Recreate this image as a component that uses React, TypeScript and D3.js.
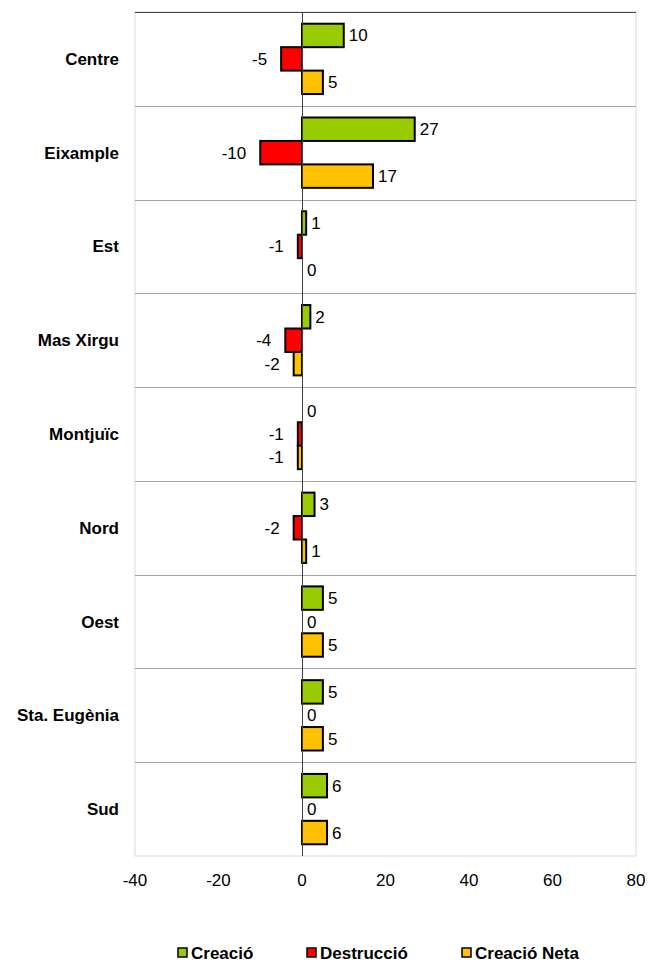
import * as d3 from "d3"
import { useEffect, useRef } from "react"

const categories = ["Centre", "Eixample", "Est", "Mas Xirgu", "Montjuïc", "Nord", "Oest", "Sta. Eugènia", "Sud"]
const seriesNames = ["Creació", "Destrucció", "Creació Neta"]
const creacio = [10, 27, 1, 2, 0, 3, 5, 5, 6]
const destruccio = [-5, -10, -1, -4, -1, -2, 0, 0, 0]
const creacioNeta = [5, 17, 0, -2, -1, 1, 5, 5, 6]
const xTicks = [-40, -20, 0, 20, 40, 60, 80]
const colors = ["#99CC00", "#FF0000", "#FFC000"]

const W = 648
const H = 963
const MARGIN = { top: 12, right: 12, bottom: 107, left: 135 }
const FONT = "'Liberation Sans', Arial, sans-serif"
const FS = 17

const App = () => {
  const svgRef = useRef<SVGSVGElement>(null)

  useEffect(() => {
    if (!svgRef.current) return
    const svg = d3.select(svgRef.current)
    svg.selectAll("*").remove()

    const x = d3.scaleLinear().domain([-40, 80]).range([MARGIN.left, W - MARGIN.right])
    const y = d3
      .scaleBand<string>()
      .domain(categories)
      .range([MARGIN.top, H - MARGIN.bottom])
      .paddingInner(0)
      .paddingOuter(0)
    const sub = d3.scaleBand<string>().domain(seriesNames).range([0, y.bandwidth()]).paddingOuter(0.5)

    const series = [creacio, destruccio, creacioNeta]

    // plot area border
    svg
      .append("rect")
      .attr("x", x(-40))
      .attr("y", MARGIN.top)
      .attr("width", x(80) - x(-40))
      .attr("height", H - MARGIN.bottom - MARGIN.top)
      .attr("fill", "none")
      .attr("stroke", "#d9d9d9")
      .attr("stroke-width", 1)

    // category separators
    svg
      .selectAll("line.sep")
      .data(categories.slice(1))
      .join("line")
      .attr("x1", x(-40))
      .attr("x2", x(80))
      .attr("y1", (d) => Math.round(y(d)!) + 0.5)
      .attr("y2", (d) => Math.round(y(d)!) + 0.5)
      .attr("stroke", "#a6a6a6")
      .attr("stroke-width", 1)

    // top line dark
    svg
      .append("line")
      .attr("x1", x(-40))
      .attr("x2", x(80))
      .attr("y1", MARGIN.top + 0.5)
      .attr("y2", MARGIN.top + 0.5)
      .attr("stroke", "#404040")

    // bars
    series.forEach((vals, si) => {
      const g = svg.append("g")
      g.selectAll("rect")
        .data(vals)
        .join("rect")
        .attr("x", (d) => x(Math.min(0, d)))
        .attr("y", (_, i) => y(categories[i])! + sub(seriesNames[si])!)
        .attr("width", (d) => Math.abs(x(d) - x(0)))
        .attr("height", sub.bandwidth())
        .attr("fill", colors[si])
        .attr("stroke", "#000")
        .attr("stroke-width", 2)
        .attr("display", (d) => (d === 0 ? "none" : null))

      g.selectAll("text")
        .data(vals)
        .join("text")
        .attr("x", (d) => (d < 0 ? x(d) - 14 : x(d) + 5))
        .attr("y", (_, i) => y(categories[i])! + sub(seriesNames[si])! + sub.bandwidth() / 2)
        .attr("dy", "0.35em")
        .attr("text-anchor", (d) => (d < 0 ? "end" : "start"))
        .attr("font-family", FONT)
        .attr("font-size", FS)
        .attr("fill", "#000")
        .text((d) => d)
    })

    // zero line
    svg
      .append("line")
      .attr("x1", Math.round(x(0)) + 0.5)
      .attr("x2", Math.round(x(0)) + 0.5)
      .attr("y1", MARGIN.top)
      .attr("y2", H - MARGIN.bottom)
      .attr("stroke", "#404040")

    // category labels
    svg
      .selectAll("text.cat")
      .data(categories)
      .join("text")
      .attr("x", 119)
      .attr("y", (d) => y(d)! + y.bandwidth() / 2)
      .attr("dy", "0.35em")
      .attr("text-anchor", "end")
      .attr("font-family", FONT)
      .attr("font-size", FS)
      .attr("font-weight", "bold")
      .text((d) => d)

    // x axis ticks
    svg
      .selectAll("text.tick")
      .data(xTicks)
      .join("text")
      .attr("x", (d) => x(d))
      .attr("y", 880)
      .attr("dy", "0.35em")
      .attr("text-anchor", "middle")
      .attr("font-family", FONT)
      .attr("font-size", FS)
      .text((d) => d)

    // legend
    const legendX = [178, 307, 462]
    const lg = svg.append("g")
    seriesNames.forEach((name, i) => {
      lg.append("rect")
        .attr("x", legendX[i])
        .attr("y", 948)
        .attr("width", 9)
        .attr("height", 9)
        .attr("fill", colors[i])
        .attr("stroke", "#000")
        .attr("stroke-width", 1.5)
      lg.append("text")
        .attr("x", legendX[i] + 13)
        .attr("y", 953)
        .attr("dy", "0.35em")
        .attr("font-family", FONT)
        .attr("font-size", FS)
        .attr("font-weight", "bold")
        .text(name)
    })
  }, [])

  return (
    <svg
      ref={svgRef}
      width={W}
      height={H}
      style={{ position: "absolute", left: 0, top: 0, display: "block", background: "#fff" }}
    />
  )
}

export default App
